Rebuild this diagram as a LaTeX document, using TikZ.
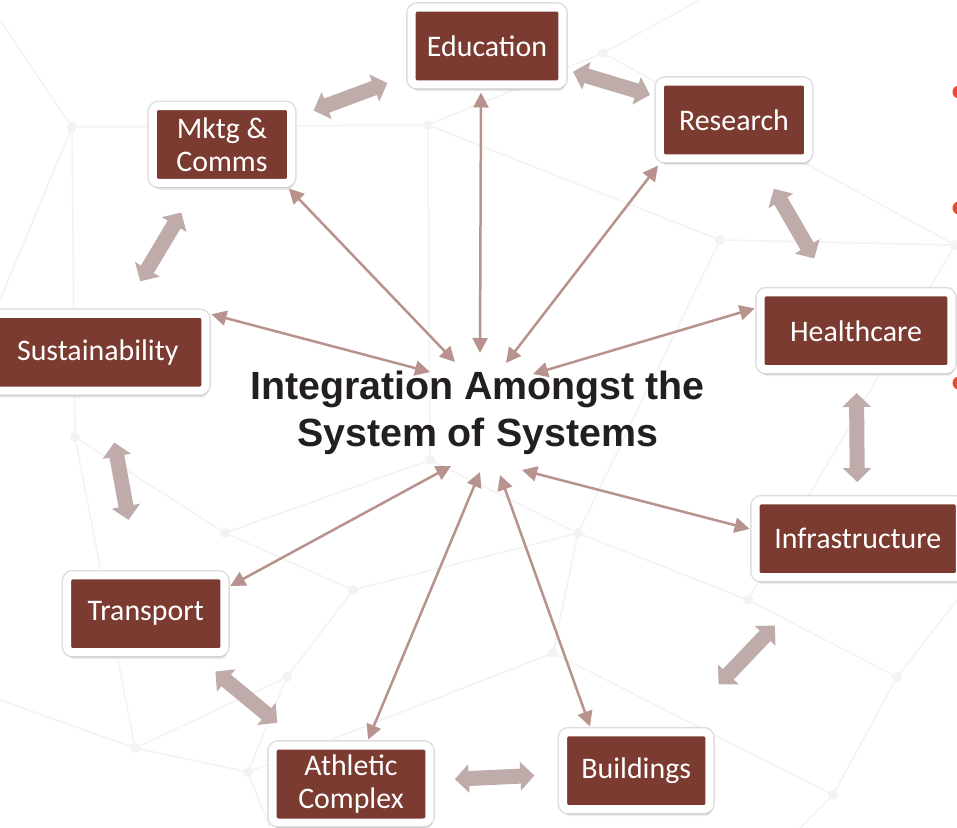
\documentclass[tikz,border=0pt]{standalone}
\usepackage{fontspec}
\usepackage{xcolor}
\usepackage{tikz}
\usetikzlibrary{arrows.meta, shadows}
\newfontfamily\boxfont{Carlito}
\newfontfamily\hubfont{Liberation Sans}
\definecolor{brick}{HTML}{7B3B31}
\definecolor{spokecol}{HTML}{B8928C}
\definecolor{linkcol}{HTML}{BFACAA}
\definecolor{dotred}{HTML}{E8472B}
\definecolor{meshcol}{HTML}{F3F3F3}
\definecolor{hubink}{HTML}{231F20}
\tikzset{
    sysbox/.style = {draw=white, line width=0.16cm, fill=brick, rounded corners=0.12cm,
                     text=white, font=\boxfont\fontsize{17}{18.5}\selectfont, align=center,
                     minimum height=1.54cm, inner sep=2pt,
                     preaction={draw=black!13, line width=0.22cm},
                     drop shadow={opacity=0.15, shadow xshift=0.04cm, shadow yshift=-0.14cm}},
    hubtxt/.style = {font=\hubfont\bfseries\fontsize{22.4}{26.7}\selectfont, text=hubink, align=center},
    spoke/.style  = {{Triangle[length=0.3cm,width=0.3cm]}-{Triangle[length=0.3cm,width=0.3cm]},
                     line width=0.05cm, spokecol},
    link/.style   = {{Triangle[length=0.28cm,width=0.56cm]}-{Triangle[length=0.28cm,width=0.56cm]},
                     line width=0.3cm, linkcol},
    mesh/.style   = {meshcol, line width=0.03cm},
}
\begin{document}
\begin{tikzpicture}[x=0.02cm, y=-0.02cm]
    \useasboundingbox (0,0) rectangle (957,828);
    \fill[white] (0,0) rectangle (957,828);
    % faint background mesh
    \foreach \xa/\ya/\xb/\yb in {72/127/428/125, 72/127/75/437, 428/125/603/53, 428/125/430/460,
                       75/437/225/533, 225/533/353/590, 225/533/430/460, 353/590/287/677,
                       353/590/578/533, 287/677/135/748, 287/677/248/772, 135/748/248/772,
                       135/748/75/437, 430/460/578/533, 578/533/748/600, 578/533/553/653,
                       748/600/897/677, 897/677/833/795, 553/653/833/795, 553/653/248/772,
                       748/600/955/245, 603/53/955/245, 0/300/72/127, 0/20/72/127,
                       603/53/700/0, 897/677/957/600, 833/795/800/828, 135/748/0/700,
                       248/772/270/828, 428/125/720/240, 720/240/955/245, 720/240/578/533}
        {\draw[mesh] (\xa,\ya) -- (\xb,\yb);}
    \foreach \xv/\yv in {72/127, 428/125, 603/53, 75/437, 225/533, 353/590, 287/677, 135/748,
                    248/772, 430/460, 578/533, 748/600, 897/677, 833/795, 553/653, 955/245, 720/240}
        {\fill[meshcol] (\xv,\yv) circle (0.1cm);}
    % bullets at the right edge
    \fill[dotred] (959,92) circle (0.13cm);
    \fill[dotred] (959,208) circle (0.13cm);
    \fill[dotred] (959,383) circle (0.13cm);
    % the systems
    \node[sysbox, minimum width=3.02cm] (edu) at (487,46) {Education};
    \node[sysbox, minimum width=2.97cm] (res) at (734,120) {Research};
    \node[sysbox, minimum width=2.77cm] (mk) at (222,144.5) {Mktg \&\\Comms};
    \node[sysbox, minimum width=4.31cm] (sus) at (97.75,352.25) {Sustainability};
    \node[sysbox, minimum width=3.82cm] (hea) at (856,330.75) {Healthcare};
    \node[sysbox, minimum width=4.09cm] (inf) at (857.75,538.75) {Infrastructure};
    \node[sysbox, minimum width=2.93cm] (bui) at (636.25,770.75) {Buildings};
    \node[sysbox, minimum width=3.14cm] (ath) at (351,784) {Athletic\\Complex};
    \node[sysbox, minimum width=3.15cm] (tra) at (145.75,613.75) {Transport};
    \node[hubtxt] (hub) at (477.5,413) {Integration Amongst the\\System of Systems};
    % ends of the spokes round the hub
    \coordinate (pEdu) at (480,353);
    \coordinate (pRes) at (506,363);
    \coordinate (pMk)  at (455,362);
    \coordinate (pSus) at (430,372);
    \coordinate (pHea) at (533,374);
    \coordinate (pInf) at (522,470);
    \coordinate (pBui) at (500,475);
    \coordinate (pAth) at (480,472);
    \coordinate (pTra) at (451,466);
    % spokes
    \draw[spoke, shorten <=0.08cm] (edu.262) -- (pEdu);
    \draw[spoke, shorten <=0.08cm] (res.210) -- (pRes);
    \draw[spoke, shorten <=0.04cm] (mk.327) -- (pMk);
    \draw[spoke, shorten <=0.04cm] (sus.19) -- (pSus);
    \draw[spoke, shorten <=0.04cm] (hea.167) -- (pHea);
    \draw[spoke, shorten <=0.04cm] (inf.175) -- (pInf);
    \draw[spoke, shorten <=0.04cm] (bui.137) -- (pBui);
    \draw[spoke, shorten <=0.04cm] (ath.69) -- (pAth);
    \draw[spoke, shorten <=0.04cm] (tra.18) -- (pTra);
    % links between neighbours
    \draw[link, shorten <=1.954cm, shorten >=2.126cm] (mk.center) -- (edu.center);
    \draw[link, shorten <=1.796cm, shorten >=1.754cm] (edu.center) -- (res.center);
    \draw[link, shorten <=1.592cm, shorten >=1.67cm] (res.center) -- (hea.center);
    \draw[link, shorten <=1.245cm, shorten >=1.135cm] (hea.center) -- (inf.center);
    \draw[link, shorten <=2.404cm, shorten >=2.386cm] (inf.center) -- (bui.center);
    \draw[link, shorten <=2.04cm, shorten >=2.08cm] (bui.center) -- (ath.center);
    \draw[link, shorten <=1.918cm, shorten >=1.81cm] (ath.center) -- (tra.center);
    \draw[link, shorten <=1.908cm, shorten >=1.836cm] (tra.center) -- (sus.center);
    \draw[link, shorten <=1.654cm, shorten >=1.586cm] (sus.center) -- (mk.center);
\end{tikzpicture}
\end{document}
